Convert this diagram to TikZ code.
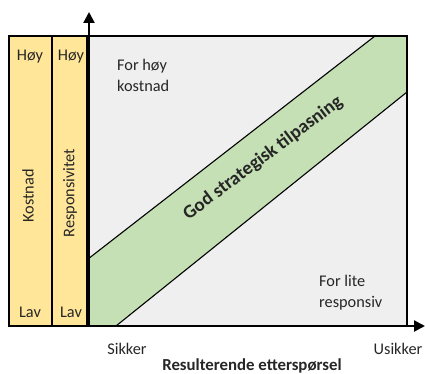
\documentclass[tikz,border=0pt]{standalone}
\usepackage{fontspec}
\setmainfont{Carlito}
\usetikzlibrary{arrows.meta}
\definecolor{gold}{HTML}{FFE699}
\definecolor{fitgreen}{HTML}{C5E0B4}
\definecolor{plotbg}{HTML}{EFEFEF}
\definecolor{ink}{HTML}{262626}
\tikzset{
  lbl/.style={inner sep=0pt, text=ink, font=\fontsize{16.3}{21}\selectfont},
  boldlbl/.style={inner sep=0pt, text=ink, font=\fontsize{19}{22}\selectfont\bfseries},
  frame/.style={draw=black, line width=1.4pt},
  axis/.style={line width=2.2pt, -{Triangle[length=11pt,width=11pt]}}
}
\begin{document}
\begin{tikzpicture}[x=1pt,y=-1pt]
\useasboundingbox (0,0) rectangle (425,374);
% plot area and the band of good strategic fit
\fill[plotbg] (88,36) rectangle (407,326);
\fill[fitgreen] (88,259) -- (375,36) -- (407,36) -- (407,92) -- (116,326) -- (88,326) -- cycle;
\draw[line width=1.1pt] (88,259) -- (375,36);
\draw[line width=1.1pt] (116,326) -- (407,92);
% scale columns
\fill[gold] (9,36) rectangle (88,326);
\draw[frame] (9,36) rectangle (407,326);
\draw[frame] (52,36) -- (52,326);
\draw[frame] (87,36) -- (87,326);
% axes
\coordinate (o) at (89,326);
\coordinate (ytop) at (89,12);
\coordinate (xend) at (425,326);
\draw[axis] (o) -- (ytop);
\draw[axis] (o) -- (xend);
% column labels
\node[lbl] (hoy1) at (30,57) {Høy};
\node[lbl] (hoy2) at (71,57) {Høy};
\node[lbl] (lav1) at (30,312) {Lav};
\node[lbl] (lav2) at (71,312) {Lav};
\node[lbl, rotate=90] (kost) at (28,196) {Kostnad};
\node[lbl, rotate=90] (resp) at (70,193) {Responsivitet};
% regions
\node[lbl, anchor=west, align=left] (high) at (117,75) {For høy\\kostnad};
\node[lbl, anchor=west, align=left] (low) at (319,293) {For lite\\responsiv};
\node[boldlbl, rotate=37] (fit) at (263,158) {God strategisk tilpasning};
% axis labels
\node[lbl] (sik) at (127,349) {Sikker};
\node[lbl] (usik) at (398,349) {Usikker};
\node[boldlbl, font=\fontsize{16.8}{20}\selectfont\bfseries] (dem) at (252,366) {Resulterende etterspørsel};
\end{tikzpicture}
\end{document}
